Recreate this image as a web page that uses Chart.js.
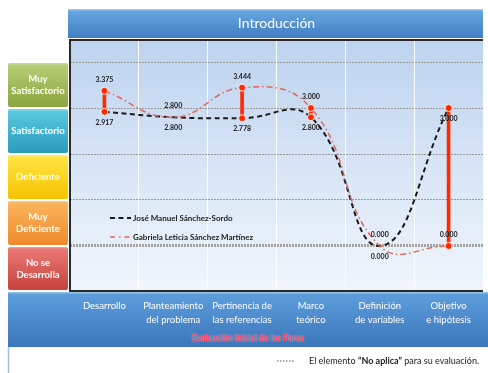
<!DOCTYPE html>
<html><head><meta charset="utf-8">
<script src="https://cdn.jsdelivr.net/npm/chart.js@4/dist/chart.umd.min.js"></script>
<style>html,body{margin:0;padding:0;background:#fff}canvas{display:block}</style>
</head><body>
<canvas id="c" width="488" height="373"></canvas>
<script>
// Category labels (multi-line) along the bottom band
const categories = [
  ['Desarrollo'],
  ['Planteamiento', 'del problema'],
  ['Pertinencia de', 'las referencias'],
  ['Marco', 'teórico'],
  ['Definición', 'de variables'],
  ['Objetivo', 'e hipótesis']
];
// Scores given by each reviewer
const joseManuel = [2.917, 2.800, 2.778, 2.800, 0.000, 3.000];
const gabriela   = [3.375, 2.800, 3.444, 3.000, 0.000, 0.000];
const seriesNames = ['José Manuel Sánchez-Sordo', 'Gabriela Leticia Sánchez Martínez'];

// Rating levels shown as coloured boxes on the left, and their value ranges
const levelLabels = [['Muy', 'Satisfactorio'], ['Satisfactorio'], ['Deficiente'], ['Muy', 'Deficiente'], ['No se', 'Desarrolla']];
const levelRanges = [[3, 4], [2, 3], [1, 2], [0, 1], [-0.98, 0]];
const yTicks = [0, 1, 2, 3, 4];

const chartTitle = 'Introducción';
const axisTitle = 'Evaluación Inicial de los Pares';
const noteParts = ['El elemento ', '“No aplica”', ' para su evaluación.'];

// Styling
const levelColors = [
  ['#b9cf78', '#8aa53e'],
  ['#5ccbe2', '#2a9cba'],
  ['#ffe544', '#f5c300'],
  ['#fbb65e', '#ef8a2c'],
  ['#ec7a76', '#c6423e']
];
const FONT = 'Lato, "Open Sans", sans-serif';

// Hi-lo range between the two reviewers for each category
const ranges = joseManuel.map((v, i) => [Math.min(v, gabriela[i]), Math.max(v, gabriela[i])]);
const differs = ctx => joseManuel[ctx.dataIndex] !== gabriela[ctx.dataIndex];

function vGrad(ctx, y0, y1, c0, c1) {
  const g = ctx.createLinearGradient(0, y0, 0, y1);
  g.addColorStop(0, c0); g.addColorStop(1, c1);
  return g;
}
function roundRect(ctx, x, y, w, h, r) {
  ctx.beginPath();
  ctx.moveTo(x + r, y);
  ctx.arcTo(x + w, y, x + w, y + h, r);
  ctx.arcTo(x + w, y + h, x, y + h, r);
  ctx.arcTo(x, y + h, x, y, r);
  ctx.arcTo(x, y, x + w, y, r);
  ctx.closePath();
}

const decorations = {
  id: 'decorations',
  beforeDraw(chart) {
    const {ctx, chartArea: a, scales: {y}} = chart;
    ctx.save();
    // plot background
    ctx.fillStyle = vGrad(ctx, a.top, a.bottom, '#bdd3ef', '#f1f6fc');
    ctx.fillRect(a.left, a.top, a.right - a.left, a.bottom - a.top);

    // title band
    const tTop = a.top - 31, tBot = a.top - 2;
    ctx.fillStyle = vGrad(ctx, tTop, tBot, '#6aa9e2', '#3f7dc1');
    ctx.fillRect(a.left - 2, tTop, a.right - a.left + 2, tBot - tTop);
    ctx.fillStyle = 'rgba(255,255,255,0.35)';
    ctx.fillRect(a.left - 2, tTop, a.right - a.left + 2, 1.5);
    ctx.fillStyle = '#ffffff';
    ctx.font = '14px ' + FONT;
    ctx.textAlign = 'center'; ctx.textBaseline = 'middle';
    ctx.fillText(chartTitle, (a.left + a.right) / 2, (tTop + tBot) / 2);

    // level boxes on the left
    levelRanges.forEach((r, i) => {
      const yt = y.getPixelForValue(r[1]) + 1, yb = y.getPixelForValue(r[0]) - 1;
      const x0 = 8, x1 = a.left - 2;
      ctx.fillStyle = vGrad(ctx, yt, yb, levelColors[i][0], levelColors[i][1]);
      roundRect(ctx, x0, yt, x1 - x0, yb - yt, 2);
      ctx.fill();
      ctx.fillStyle = 'rgba(255,255,255,0.25)';
      ctx.fillRect(x0 + 1, yt, x1 - x0 - 2, 1.5);
      ctx.fillStyle = '#ffffff';
      ctx.font = 'bold 9.5px ' + FONT;
      const lines = levelLabels[i], lh = 12, cy = (yt + yb) / 2;
      lines.forEach((t, k) => ctx.fillText(t, (x0 + x1) / 2, cy + (k - (lines.length - 1) / 2) * lh));
    });

    // bottom band behind the category labels
    const bTop = a.bottom + 1, bBot = a.bottom + 56;
    ctx.fillStyle = vGrad(ctx, bTop, bBot, '#5f9fdd', '#3a76ba');
    ctx.fillRect(8, bTop, chart.width - 8, bBot - bTop);
    ctx.fillStyle = 'rgba(255,255,255,0.35)';
    ctx.fillRect(8, bTop, chart.width - 8, 1.5);
    ctx.strokeStyle = '#9cc3e8'; ctx.lineWidth = 1.5;
    ctx.beginPath(); ctx.moveTo(8.5, bBot); ctx.lineTo(8.5, chart.height); ctx.stroke();

    // footnote
    const fy = bBot + 14;
    ctx.strokeStyle = '#a8a8a8'; ctx.lineWidth = 2; ctx.setLineDash([1.5, 1.5]);
    ctx.beginPath(); ctx.moveTo(277, fy); ctx.lineTo(294, fy); ctx.stroke();
    ctx.setLineDash([]);
    ctx.textAlign = 'left'; ctx.fillStyle = '#222';
    let fx = 309;
    noteParts.forEach((t, k) => {
      ctx.font = (k === 1 ? 'bold ' : '') + '9px ' + FONT;
      ctx.fillText(t, fx, fy);
      fx += ctx.measureText(t).width;
    });
    ctx.restore();
  },
  afterDatasetsDraw(chart) {
    const {ctx, chartArea: a} = chart;
    ctx.save();
    // dark frame around the plot
    ctx.strokeStyle = '#2a2a2a'; ctx.lineWidth = 2;
    ctx.beginPath();
    ctx.moveTo(a.right, a.top); ctx.lineTo(a.left, a.top); ctx.lineTo(a.left, a.bottom); ctx.lineTo(a.right, a.bottom);
    ctx.stroke();

    // value labels: first reviewer below, second above
    ctx.font = 'bold 7px ' + FONT;
    ctx.fillStyle = '#222'; ctx.textAlign = 'center'; ctx.textBaseline = 'middle';
    [[1, joseManuel, 11], [2, gabriela, -11]].forEach(([di, vals, off]) => {
      chart.getDatasetMeta(di).data.forEach((el, i) => {
        ctx.fillText(vals[i].toFixed(3), el.x, el.y + off);
      });
    });

    // legend inside the plot
    const lx = a.left + 40, ly1 = a.top + 178, ly2 = a.top + 197;
    ctx.lineWidth = 2; ctx.strokeStyle = '#1a1a1a'; ctx.setLineDash([5, 3.5]);
    ctx.beginPath(); ctx.moveTo(lx, ly1); ctx.lineTo(lx + 21, ly1); ctx.stroke();
    ctx.lineWidth = 1.5; ctx.strokeStyle = '#e2685b'; ctx.setLineDash([5, 4, 1.5, 4]);
    ctx.beginPath(); ctx.moveTo(lx, ly2); ctx.lineTo(lx + 20, ly2); ctx.stroke();
    ctx.setLineDash([]);
    ctx.font = 'bold 8px ' + FONT; ctx.textAlign = 'left'; ctx.fillStyle = '#222';
    ctx.fillText(seriesNames[0], lx + 23, ly1);
    ctx.fillText(seriesNames[1], lx + 23, ly2);
    ctx.restore();
  },
  afterDraw(chart) {
    const {ctx, chartArea: a} = chart;
    ctx.save();
    ctx.font = 'bold 8.5px ' + FONT;
    ctx.textAlign = 'center'; ctx.textBaseline = 'middle';
    // soft light halo behind the axis caption
    ctx.shadowColor = 'rgba(255,255,255,0.7)';
    ctx.shadowBlur = 2;
    ctx.fillStyle = '#ff3b5c';
    ctx.fillText(axisTitle, 248, a.bottom + 47);
    ctx.restore();
  }
};

const markerStyle = {
  type: 'line', showLine: false,
  pointRadius: ctx => differs(ctx) ? 3.5 : 0,
  pointBackgroundColor: '#ff2a00',
  pointBorderColor: 'rgba(255,255,255,0.85)',
  pointBorderWidth: 1,
  order: 0
};

new Chart(document.getElementById('c'), {
  type: 'line',
  data: {
    labels: categories,
    datasets: [
      {type: 'bar', label: 'rango', data: ranges, backgroundColor: '#ff2a00', barThickness: 3, borderSkipped: false, order: 1},
      {label: seriesNames[0], data: joseManuel, borderColor: '#1a1a1a', borderWidth: 2, borderDash: [5, 3.5],
       tension: 0.45, pointRadius: 0, fill: false, order: 3},
      {label: seriesNames[1], data: gabriela, borderColor: '#e2685b', borderWidth: 1.5, borderDash: [6, 3, 1.5, 3],
       tension: 0.45, pointRadius: 0, fill: false, order: 2},
      Object.assign({label: 'm1', data: joseManuel}, markerStyle),
      Object.assign({label: 'm2', data: gabriela}, markerStyle)
    ]
  },
  options: {
    responsive: false,
    animation: false,
    layout: {padding: {top: 40, right: 0, left: 0, bottom: 0}},
    plugins: {legend: {display: false}, tooltip: {enabled: false}},
    scales: {
      x: {
        offset: true,
        grid: {offset: true, color: 'rgba(255,255,255,0.95)', lineWidth: 1, drawTicks: false},
        border: {display: false},
        ticks: {color: '#ffffff', font: {family: FONT, size: 9.5, lineHeight: 1.5}, padding: 8, maxRotation: 0, autoSkip: false},
        afterFit: s => { s.height = 82; }
      },
      y: {
        min: -0.98, max: 4.48,
        afterBuildTicks: s => { s.ticks = yTicks.map(v => ({value: v})); },
        ticks: {display: false},
        grid: {
          drawTicks: false,
          color: ctx => ctx.tick && ctx.tick.value === 0 ? '#a3a3a3' : '#9b9b9b',
          lineWidth: ctx => ctx.tick && ctx.tick.value === 0 ? 3 : 1
        },
        border: {display: false, dash: [2, 1]},
        afterFit: s => { s.width = 70; }
      }
    }
  },
  plugins: [decorations]
});
</script>
</body></html>
